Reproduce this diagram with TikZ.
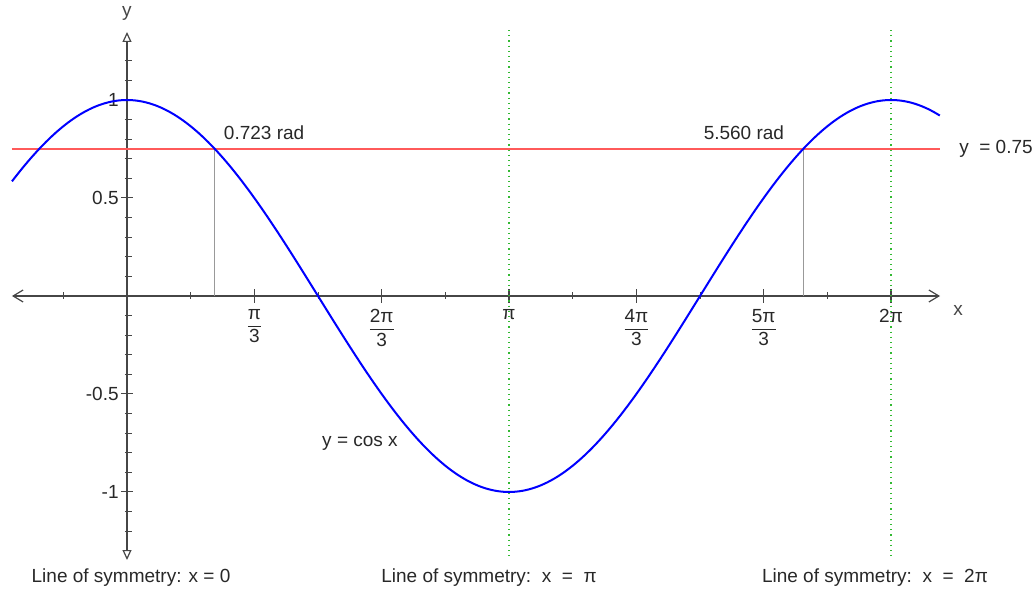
\documentclass[tikz,border=0pt]{standalone}
\usepackage{fontspec}
\setmainfont{Liberation Sans}
\usepackage{tikz}
\usetikzlibrary{
	arrows.meta,
	calc
}
\definecolor{CurveBlue}{RGB}{0,0,255}
\definecolor{LevelRed}{RGB}{255,90,90}
\definecolor{SymGreen}{RGB}{50,185,50}
\definecolor{AxisGray}{RGB}{70,70,70}
\definecolor{TextGray}{RGB}{40,40,40}
\newcommand{\pifrac}[1]{$\displaystyle\frac{\mbox{#1}}{\mbox{3}}$}

\begin{document}
\begin{tikzpicture}[x=60.8pt, y=98pt, font=\fontsize{9.5}{11}\selectfont, text=TextGray]
		\useasboundingbox (-1.0444,-1.5102) rectangle (7.4424,1.5102);
		% axes
		\draw[AxisGray, line width=0.6pt, {Straight Barb[length=5pt,width=6pt]}-{Straight Barb[length=5pt,width=6pt]}] (-0.946,0) -- (6.686,0) node[anchor=north west, xshift=3pt, yshift=-1pt] (xlbl) {x};
		\draw[AxisGray, line width=0.6pt, {Triangle[open,length=5pt,width=4.5pt]}-{Triangle[open,length=5pt,width=4.5pt]}] (0,-1.347) -- (0,1.347) node[above, yshift=2pt] (ylbl) {y};
		\foreach \k in {-12,...,12}
			\draw[AxisGray, line width=0.5pt] (0,\k/10) ++(-1pt,0) -- ++(3.5pt,0);
		\foreach \v in {-1,-0.5,0.5,1}
			\draw[AxisGray, line width=0.5pt] (0,\v) ++(-3pt,0) -- ++(6pt,0);
		\node[left, inner sep=0pt, xshift=-4pt] (yone) at (0,1) {1};
		\node[left, inner sep=0pt, xshift=-4pt] (yhalf) at (0,0.5) {0.5};
		\node[left, inner sep=0pt, xshift=-4pt] (ymhalf) at (0,-0.5) {-0.5};
		\node[left, inner sep=0pt, xshift=-4pt] (ymone) at (0,-1) {-1};
		\foreach \k in {-1,1,3,5,7,9,11}
			\draw[AxisGray, line width=0.5pt] ({\k*pi/6},0) ++(0,-1.5pt) -- ++(0,3.5pt);
		\foreach \k in {1,...,6}
			\draw[AxisGray, line width=0.6pt] ({\k*pi/3},0) ++(0,-3.5pt) -- ++(0,7pt);
		\node[below, yshift=-3pt] (xa) at ({pi/3},0) {\pifrac{π}};
		\node[below, yshift=-3pt] (xb) at ({2*pi/3},0) {\pifrac{2π}};
		\node[below, yshift=-3pt] (xc) at (pi,0) {π};
		\node[below, yshift=-3pt] (xd) at ({4*pi/3},0) {\pifrac{4π}};
		\node[below, yshift=-3pt] (xe) at ({5*pi/3},0) {\pifrac{5π}};
		\node[below, yshift=-3pt] (xf) at ({2*pi},0) {2π};
		
		% lines of symmetry
		\draw[SymGreen, dotted, line width=0.6pt] (pi,1.357) -- (pi,-1.347);
		\draw[SymGreen, dotted, line width=0.6pt] ({2*pi},1.357) -- ({2*pi},-1.347);
		
		% level line and curve
		\coordinate (P1) at (0.723,0.75);
		\coordinate (P2) at (5.560,0.75);
		\coordinate (F1) at (0.723,0);
		\coordinate (F2) at (5.560,0);
		\draw[gray!80, line width=0.5pt] (F1) -- (P1);
		\draw[gray!80, line width=0.5pt] (F2) -- (P2);
		\draw[LevelRed, line width=0.6pt] (-0.946,0.75) -- (6.686,0.75) node[right, xshift=6pt, text=TextGray] (lvl) {y\ \ = 0.75};
		\draw[CurveBlue, line width=1pt, domain=-0.946:6.686, samples=150, smooth] plot (\x, {cos(\x r)});
		
		\node[anchor=south west, xshift=1pt, yshift=1pt] (ra) at (P1) {0.723 rad};
		\node[anchor=south east, xshift=-6pt, yshift=1pt] (rb) at (P2) {5.560 rad};
		\node (cos) at (1.916,-0.75) {y = cos x};
		\node (sa) at (0.033,-1.439) {Line of symmetry: x = 0};
		\node (sb) at (2.977,-1.439) {Line of symmetry:\ \ x\ \ =\ \ π};
		\node (sc) at (6.151,-1.439) {Line of symmetry:\ \ x\ \ =\ \ 2π};
	\end{tikzpicture}
\end{document}
